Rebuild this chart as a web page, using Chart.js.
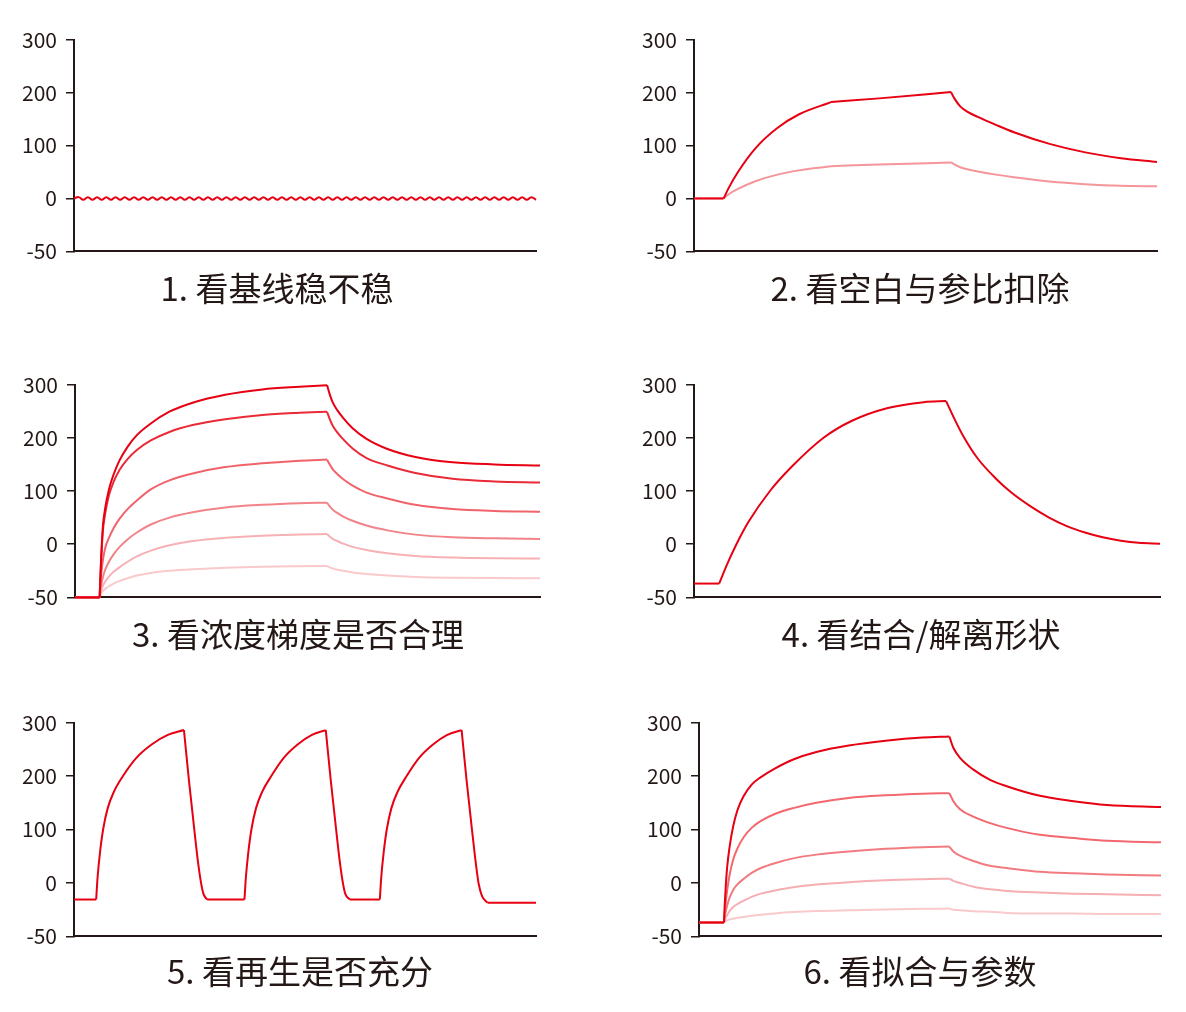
<!DOCTYPE html>
<html>
<head>
<meta charset="utf-8">
<script src="https://cdn.jsdelivr.net/npm/chart.js@4.4.1/dist/chart.umd.min.js"></script>
<style>
    body { margin: 0; width: 1186px; height: 1012px; background: #fff; position: relative; overflow: hidden;
           font-family: "Noto Sans CJK SC", "Noto Sans", sans-serif; }
    canvas { position: absolute; }
    .cap { position: absolute; font-size: 33px; line-height: 40px; color: #231815; white-space: nowrap;
           transform: translateX(-50%); }
</style>
</head>
<body>
<canvas id="c1"></canvas>
<canvas id="c2"></canvas>
<canvas id="c3"></canvas>
<canvas id="c4"></canvas>
<canvas id="c5"></canvas>
<canvas id="c6"></canvas>

<div class="cap" style="left:277px; top:267px">1. 看基线稳不稳</div>
<div class="cap" style="left:920px; top:267px">2. 看空白与参比扣除</div>
<div class="cap" style="left:298px; top:613px">3. 看浓度梯度是否合理</div>
<div class="cap" style="left:921px; top:613px">4. 看结合/解离形状</div>
<div class="cap" style="left:300px; top:950px">5. 看再生是否充分</div>
<div class="cap" style="left:920px; top:950px">6. 看拟合与参数</div>

<script>
// y ticks are evenly spaced but the lowest one reads -50, so the axis runs -100..300
let yTicks = [-100, 0, 100, 200, 300];
let yTickLabels = ['-50', '0', '100', '200', '300'];

// 1. baseline wobble
let wave1 = [0,
    2.5, -2.5, 2.5, -2.5, 2.5, -2.5, 2.5, -2.5, 2.5, -2.5,
    2.5, -2.5, 2.5, -2.5, 2.5, -2.5, 2.5, -2.5, 2.5, -2.5,
    2.5, -2.5, 2.5, -2.5, 2.5, -2.5, 2.5, -2.5, 2.5, -2.5,
    2.5, -2.5, 2.5, -2.5, 2.5, -2.5, 2.5, -2.5, 2.5, -2.5,
    2.5, -2.5, 2.5, -2.5, 2.5, -2.5, 2.5, -2.5, 2.5, -2.5,
    2.5, -2.5, 2.5, -2.5, 2.5, -2.5, 2.5, -2.5, 2.5, -2.5,
    2.5, -2.5, 2.5, -2.5, 2.5, -2.5, 2.5, -2.5, 2.5, -2.5,
    2.5, -2.5, 2.5, -2.5, 2.5, -2.5, 2.5, -2.5, 2.5, -2.5,
    2.5, -2.5, 2.5, -2.5, 2.5, -2.5, 2.5, -2.5, 2.5, -2.5,
    2.5, -2.5, 2.5, -2.5, 2.5, -2.5, 2.5, -2.5, 2.5, -2.5];

// 2. blank / reference subtraction (x in % of run time)
let time2 = [0, 6.4, 7.5, 9.5, 13.4, 18, 22.7, 29.6, 40, 55.5, 56.3, 57.5, 59, 61.3, 65.2, 69.1, 76.8, 84.5, 92.2, 100];
let raw2 = [0, 0, 20, 50, 96, 133, 159, 182, 189, 201, 188, 174, 164, 154, 139, 125, 103, 87, 76, 69];
let ref2 = [0, 0, 8, 18, 33, 45, 53, 61, 64, 68, 64, 59, 55, 51, 45, 40, 32, 27, 24, 23];
let corners2 = [1, 7, 9];

// 3. concentration series
let time3 = [0, 5.3, 5.45, 5.65, 6.0, 6.5, 7.3, 8.3, 9.6, 11.3, 13.3, 16.3, 20.3, 25.3, 32.3, 40.3, 48.3, 54.2,
    54.7, 55.4, 56.4, 57.7, 59.7, 62.7, 67.2, 73.2, 81.2, 90.2, 100];
let conc3 = [
    [-100, -100, -62, -20, 34, 68, 103, 131, 158, 183, 205, 227, 249, 266, 281, 291, 296, 299,
        284, 267, 252, 237, 218, 198, 179, 164, 154, 150, 148],
    [-100, -100, -65, -26, 25, 58, 92, 117, 140, 160, 177, 195, 211, 224, 235, 243, 247, 249,
        237, 223, 210, 197, 180, 162, 148, 134, 123, 118, 116],
    [-100, -100, -78, -55, -30, -7, 12, 30, 48, 66, 82, 103, 120, 133, 145, 152, 157, 159,
        151, 141, 132, 122, 110, 97, 86, 74, 66, 62.5, 61],
    [-100, -100, -88, -76, -62, -48, -33, -19, -5, 9, 22, 37, 50, 60, 69, 74, 77, 78,
        72, 65, 59, 52, 44, 35, 26, 18, 13, 11, 10],
    [-100, -100, -93, -86, -78, -70, -61, -52, -43, -33, -23, -12, -2, 6, 12, 16, 18, 19,
        15, 10, 6, 1, -5, -11, -17, -22, -25, -26.5, -27],
    [-100, -100, -96, -92, -88, -84, -79, -74, -69, -64, -59, -54, -50, -47, -44.5, -42.5, -41.5, -41,
        -43, -45.5, -48, -50, -53, -56, -59, -61.5, -63, -63.7, -64]
];
let corners3 = [1, 17];

// 4. association / dissociation shape
let time4 = [0, 5.4, 7.1, 9.0, 11.7, 16.3, 20.9, 27.8, 33.9, 41.6, 49.3, 54.1,
    56.2, 57.8, 60.8, 64.7, 68.1, 72.4, 76.2, 80, 83.9, 87.7, 91.6, 95.4, 100];
let resp4 = [-74, -74, -38, -2, 42, 100, 145, 200, 232, 256, 267, 269,
    230, 203, 162, 124, 97, 70, 50, 34, 22, 13, 6.5, 2.5, 1];
let corners4 = [1, 11];

// 5. three regeneration cycles
let time5 = [0, 4.8, 5.1, 5.6, 6.3, 7.3, 8.6, 10.6, 13.5, 16.8, 20.3, 23.8, 24.9, 26.1, 26.9, 27.5, 28.0, 28.8,
    36.9, 37.2, 37.7, 38.4, 39.4, 40.7, 42.7, 45.4, 48.4, 51.5, 54.5, 55.6, 56.8, 57.6, 58.2, 58.7, 59.7,
    66.2, 66.5, 67.0, 67.7, 68.7, 70.0, 72.0, 74.7, 77.7, 80.8, 83.9, 85.0, 86.2, 87.0, 87.6, 88.3, 89.5, 100];
let resp5 = [-31, -31, 10, 55, 100, 140, 170, 200, 234, 259, 277, 286, 190, 95, 35, 0, -20, -31,
    -31, 10, 55, 100, 140, 170, 200, 234, 259, 277, 286, 190, 95, 35, 0, -20, -31,
    -31, 10, 55, 100, 140, 170, 200, 234, 259, 277, 286, 190, 95, 35, -2, -24, -37, -37];
let corners5 = [1, 11, 17, 18, 28, 34, 35, 45, 51];

// 6. global fit
let time6 = [0, 5.4, 5.55, 5.75, 6.1, 6.6, 7.4, 8.4, 9.7, 11.4, 13.4, 16.4, 20.4, 25.4, 32.4, 40.4, 48.4, 54.2,
    55.05, 56.5, 59.4, 63.0, 66.6, 73.8, 81.1, 88.3, 100];
let conc6 = [
    [-74, -74, -44, -12, 30, 66, 106, 138, 163, 184, 198, 214, 231, 245, 257, 266, 272, 274,
        253, 234, 212, 193, 181, 163, 153, 146, 142],
    [-74, -74, -58, -39, -14, 14, 44, 66, 86, 103, 116, 129, 140, 150, 159, 164, 167, 168,
        153, 138, 124, 112, 103, 90, 84, 79, 76],
    [-74, -74, -65, -55, -42, -28, -13, -2, 8, 19, 28, 37, 46, 53, 59, 64, 67, 68,
        59, 51, 41, 32, 28, 21, 18, 16, 14],
    [-74, -74, -70, -65.5, -60, -53, -45, -39, -33, -26, -20, -14, -8, -3, 1.5, 5, 7, 8,
        4, 0, -7, -12, -15, -18, -20, -21, -23],
    [-74, -74, -72.5, -71.5, -70, -68.5, -67, -65, -63.5, -61.5, -59.5, -57, -54.5, -52.5, -51, -49.5, -48.5, -48,
        -50, -51, -53, -54, -56, -57, -57, -58, -58]
];
let corners6 = [1, 17];

const ink = '#231815';
const red = '#e60012';
const shades3 = ['#e60012', '#ea2a36', '#f0636a', '#f28388', '#f7b0b4', '#f9c9cc'];
const shades6 = ['#e60012', '#f2686e', '#f27b80', '#f6aeb2', '#f9c9cc'];
const font = "'Noto Sans CJK SC', 'Noto Sans', sans-serif";

// cut a trace at its sharp corners so each piece is smoothed on its own
function pieces(xs, ys, corners) {
    let cuts = [0].concat(corners, [xs.length - 1]);
    let out = [];
    for (let k = 0; k < cuts.length - 1; k++) {
        let pts = [];
        for (let i = cuts[k]; i <= cuts[k + 1]; i++) pts.push({x: xs[i], y: ys[i]});
        out.push(pts);
    }
    return out;
}

function traces(xs, rows, corners, colors) {
    let sets = [];
    rows.forEach((ys, r) => {
        pieces(xs, ys, corners).forEach(pts => {
            sets.push({
                data: pts,
                borderColor: colors[r],
                borderWidth: 2,
                pointRadius: 0,
                fill: false,
                clip: false,
                cubicInterpolationMode: 'monotone'
            });
        });
    });
    return sets;
}

function axes(xType) {
    return {
        x: {
            type: xType,
            min: xType === 'linear' ? 0 : undefined,
            max: xType === 'linear' ? 100 : undefined,
            offset: false,
            afterFit: s => { s.height = 0; },
            ticks: {display: false},
            grid: {display: true, drawOnChartArea: false, drawTicks: false},
            border: {color: ink, width: 2}
        },
        y: {
            min: -100,
            max: 300,
            afterFit: s => { s.width = 70; },
            afterBuildTicks: s => { s.ticks = yTicks.map(v => ({value: v})); },
            ticks: {
                padding: 9,
                color: ink,
                font: {family: font, size: 21},
                callback: v => yTickLabels[yTicks.indexOf(v)]
            },
            grid: {drawOnChartArea: false, drawTicks: true, tickLength: 8, color: ink, lineWidth: 1.5},
            border: {color: ink, width: 2}
        }
    };
}

function config(makeData, xType) {
    return {
        type: 'line',
        data: makeData(),
        options: {
            responsive: false,
            animation: false,
            devicePixelRatio: 1,
            layout: {padding: {top: 14, bottom: 14, left: 0, right: 4}},
            scales: axes(xType),
            plugins: {
                legend: {display: false},
                tooltip: {enabled: false}
            }
        }
    };
}

// draw once, measure the margins round the plot area, then size the canvas
// so the plot area lands exactly on the target box
function draw(id, axisX, rightX, topY, botY, makeData, xType) {
    let cv = document.getElementById(id);
    cv.width = 70 + (rightX - axisX) + 4;
    cv.height = 40 + (botY - topY) + 40;
    let ch = new Chart(cv, config(makeData, xType));
    let a = ch.chartArea;
    let mt = a.top, mb = cv.height - a.bottom, ml = a.left, mr = cv.width - a.right;
    ch.destroy();
    cv.width = ml + (rightX - axisX) + mr;
    cv.height = mt + (botY - topY) + mb;
    cv.style.left = (axisX - ml) + 'px';
    cv.style.top = (topY - mt) + 'px';
    new Chart(cv, config(makeData, xType));
}

draw('c1', 74, 536, 40, 252, () => ({
    labels: wave1.map((_, i) => i),
    datasets: [{
        data: wave1,
        borderColor: red,
        borderWidth: 2,
        pointRadius: 0,
        tension: 0.4,
        clip: false
    }]
}), 'category');

draw('c2', 694, 1157, 40, 252,
    () => ({datasets: traces(time2, [raw2, ref2], corners2, [red, '#f4959a'])}), 'linear');

draw('c3', 75, 540, 385, 598,
    () => ({datasets: traces(time3, conc3, corners3, shades3)}), 'linear');

draw('c4', 694, 1160, 385, 598,
    () => ({datasets: traces(time4, [resp4], corners4, [red])}), 'linear');

draw('c5', 74, 536, 723, 937,
    () => ({datasets: traces(time5, [resp5], corners5, [red])}), 'linear');

draw('c6', 699, 1161, 723, 937,
    () => ({datasets: traces(time6, conc6, corners6, shades6)}), 'linear');
</script>
</body>
</html>
